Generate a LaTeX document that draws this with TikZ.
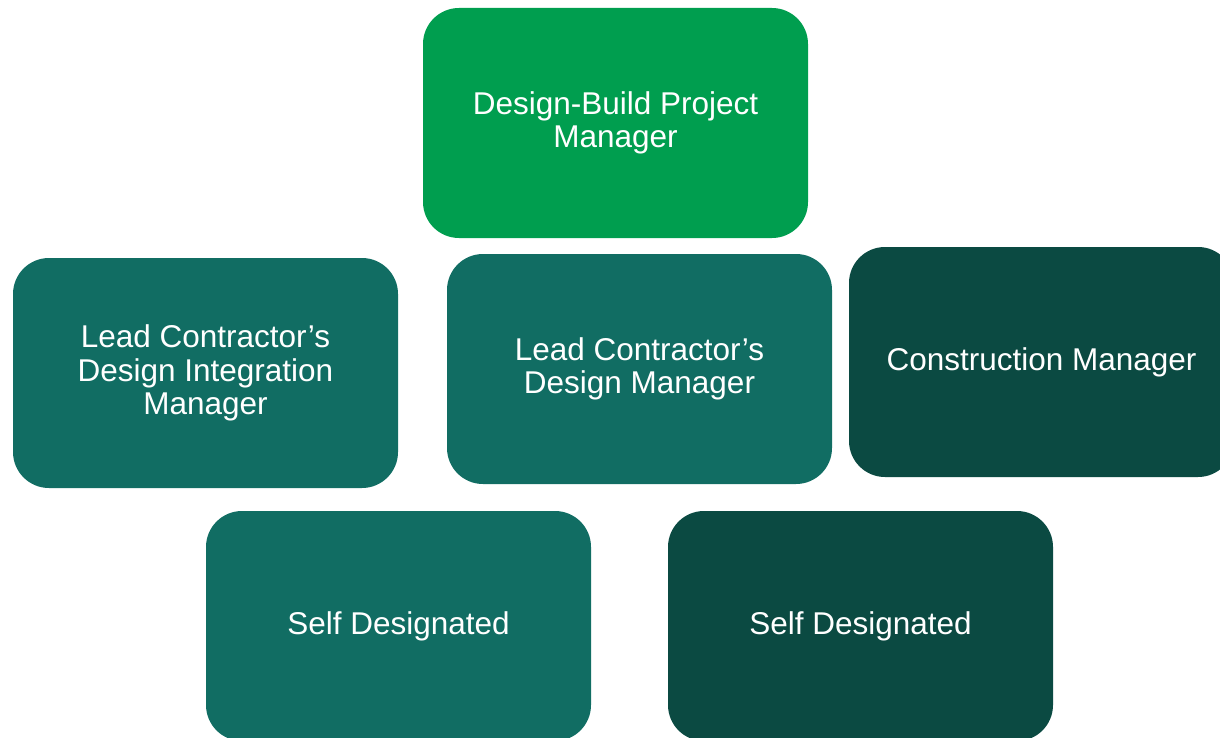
\documentclass[tikz,border=0pt]{standalone}
\usepackage{fontspec}
\setmainfont{Liberation Sans}
\definecolor{dbgreen}{HTML}{009E4F}
\definecolor{leadteal}{HTML}{116D63}
\definecolor{darkteal}{HTML}{0B4A42}
\tikzset{role/.style={rounded corners=36pt, minimum width=385pt, minimum height=230pt,
    inner sep=0pt, align=center, text=white, font=\fontsize{31.5}{33.5}\selectfont}}
\begin{document}
\begin{tikzpicture}[x=1pt,y=-1pt]
  \clip (0,0) rectangle (1220,738);
  \node[role, fill=dbgreen]  (DBPM) at (615.5,123) {Design-Build Project\\Manager};
  \node[role, fill=leadteal] (LDIM) at (205.5,373) {Lead Contractor’s\\Design Integration\\Manager};
  \node[role, fill=leadteal] (LDM)  at (639.5,369) {Lead Contractor’s\\Design Manager};
  \node[role, fill=darkteal] (CM)   at (1041.5,362) {Construction Manager};
  \node[role, fill=leadteal] (SDa)  at (398.5,626) {Self Designated};
  \node[role, fill=darkteal] (SDb)  at (860.5,626) {Self Designated};
\end{tikzpicture}
\end{document}
